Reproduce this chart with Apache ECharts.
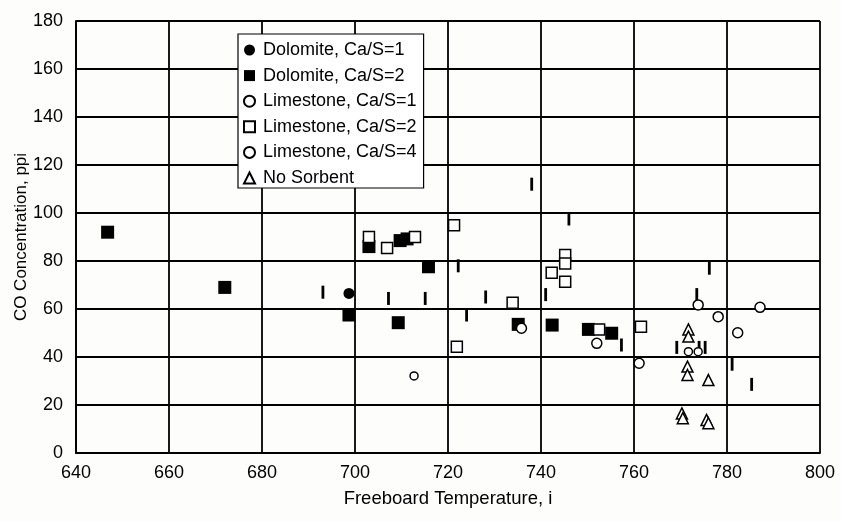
<!DOCTYPE html>
<html>
<head>
<meta charset="utf-8">
<script src="https://cdn.jsdelivr.net/npm/echarts@6/dist/echarts.min.js"></script>
<style>
  html, body { margin: 0; padding: 0; background: #fdfdfb; }
  #chart { width: 841px; height: 521px; }
</style>
</head>
<body>
<div id="chart"></div>
<script>
// x ticks / y ticks
var xTicks = [640, 660, 680, 700, 720, 740, 760, 780, 800];
var yTicks = [0, 20, 40, 60, 80, 100, 120, 140, 160, 180];

// [temperature, CO]
var dolomite1 = [[698.7, 66.5]];
var dolomite2 = [[646.8, 92], [672, 69], [698.7, 57.5], [703, 86], [709.7, 88.5], [711.2, 89.2],
  [715.8, 77.6], [709.3, 54.3], [735.1, 53.6], [742.4, 53.3], [750.2, 51.5], [755.2, 49.9]];
var limestone1 = [[735.8, 52], [752, 45.7], [761.1, 37.4], [773.8, 61.7], [778.1, 56.8],
  [787.1, 60.7], [782.3, 50.1]];
var limestone2 = [[703, 90], [706.9, 85.4], [712.9, 90], [721.3, 94.9], [745.2, 82.5], [745.2, 79],
  [742.3, 75.1], [745.2, 71.4], [733.9, 62.6], [721.9, 44.3], [752.5, 51.5], [761.5, 52.6]];
var limestone4 = [[712.7, 32.1], [771.7, 42.2], [773.8, 42.2]];
var noSorbent = [[771.7, 51.5], [771.7, 48.5], [771.5, 36], [771.5, 32.5], [776, 30.4],
  [770.3, 16.5], [770.5, 14.5], [775.6, 13.8], [776, 12.4]];
// small vertical marks without a legend entry
var ticksMarks = [[693.1, 67], [707.2, 64.4], [715.1, 64.4], [722.2, 78], [724, 57.5], [728.1, 65],
  [738, 112], [741, 66], [746, 97.5], [757.3, 45], [769.2, 44], [773.5, 66], [774, 44],
  [775.3, 44], [776.2, 77], [781.1, 37], [785.3, 28.6]];

var chart = echarts.init(document.getElementById('chart'));
var font = 'Liberation Sans, Arial, sans-serif';
var openStyle = { color: '#fff', borderColor: '#000', borderWidth: 1.5, opacity: 1 };
var solidStyle = { color: '#000', opacity: 1 };

var option = {
  animation: false,
  backgroundColor: '#fdfdfb',
  textStyle: { fontFamily: font, color: '#000' },
  grid: { left: 76, right: 21, top: 21, bottom: 68, outerBoundsMode: 'none', containLabel: false },
  legend: {
    orient: 'vertical',
    left: 238,
    top: 34,
    padding: [7, 7, 1, 5],
    itemGap: 7.6,
    itemWidth: 11,
    itemHeight: 11,
    borderColor: '#000',
    borderWidth: 1.2,
    borderRadius: 0,
    backgroundColor: '#fff',
    textStyle: { fontFamily: font, fontSize: 18, lineHeight: 18, color: '#000', padding: [0, 0, 0, 3] },
    data: ['Dolomite, Ca/S=1', 'Dolomite, Ca/S=2', 'Limestone, Ca/S=1',
      'Limestone, Ca/S=2', 'Limestone, Ca/S=4', 'No Sorbent']
  },
  xAxis: {
    type: 'value', min: xTicks[0], max: xTicks[xTicks.length - 1], interval: 20,
    name: 'Freeboard Temperature, i', nameLocation: 'middle', nameGap: 36, nameMoveOverlap: false,
    nameTextStyle: { fontFamily: font, fontSize: 18.5, color: '#000' },
    axisLine: { lineStyle: { color: '#000', width: 1.8 } },
    axisTick: { show: false },
    axisLabel: { fontFamily: font, fontSize: 18, color: '#000', margin: 11 },
    splitLine: { lineStyle: { color: '#000', width: 1.8 } }
  },
  yAxis: {
    type: 'value', min: yTicks[0], max: yTicks[yTicks.length - 1], interval: 20,
    name: 'CO Concentration, ppi', nameLocation: 'middle', nameGap: 46, nameMoveOverlap: false,
    nameTextStyle: { fontFamily: font, fontSize: 17, color: '#000' },
    axisLine: { show: true, lineStyle: { color: '#000', width: 1.8 } },
    axisTick: { show: false },
    axisLabel: { fontFamily: font, fontSize: 18, color: '#000', margin: 13 },
    splitLine: { lineStyle: { color: '#000', width: 1.8 } }
  },
  series: [
    { name: 'marks', type: 'scatter', data: ticksMarks, symbol: 'rect', symbolSize: [2.8, 13],
      itemStyle: solidStyle },
    { name: 'Dolomite, Ca/S=1', type: 'scatter', data: dolomite1, symbol: 'circle', symbolSize: 11,
      itemStyle: solidStyle },
    { name: 'Dolomite, Ca/S=2', type: 'scatter', data: dolomite2, symbol: 'rect', symbolSize: 13,
      itemStyle: solidStyle },
    { name: 'Limestone, Ca/S=1', type: 'scatter', data: limestone1, symbol: 'circle', symbolSize: 10,
      itemStyle: openStyle },
    { name: 'Limestone, Ca/S=2', type: 'scatter', data: limestone2, symbol: 'rect', symbolSize: 11,
      itemStyle: openStyle },
    { name: 'Limestone, Ca/S=4', type: 'scatter', data: limestone4, symbol: 'circle', symbolSize: 8,
      itemStyle: openStyle },
    { name: 'No Sorbent', type: 'scatter', data: noSorbent, symbol: 'triangle', symbolSize: 11,
      itemStyle: openStyle }
  ]
};
chart.setOption(option);
</script>
</body>
</html>
